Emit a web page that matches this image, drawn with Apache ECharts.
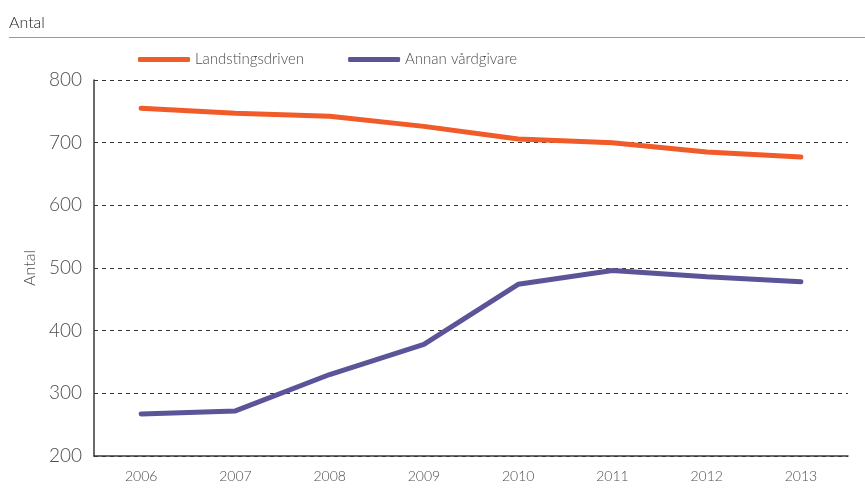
<!DOCTYPE html>
<html>
<head>
<meta charset="utf-8">
<script src="https://cdn.jsdelivr.net/npm/echarts@6/dist/echarts.min.js"></script>
<style>
  html, body { margin: 0; padding: 0; background: #fff; }
  #chart { width: 865px; height: 494px; }
</style>
</head>
<body>
<div id="chart"></div>
<script>
'use strict';

// data
const years = ['2006', '2007', '2008', '2009', '2010', '2011', '2012', '2013'];
const landstingsdriven = [755, 747, 742, 726, 706, 700, 685, 677];
const annanVardgivare = [267, 272, 330, 378, 474, 496, 486, 478];

const COLORS = {
  ORANGE: '#f15a29',
  PURPLE: '#5b5499',
  AXIS: '#3a3a3a',
  TEXT: '#4d4d4d',
};
const FONT = 'Lato, "Open Sans", sans-serif';

const chart = echarts.init(document.getElementById('chart'));

chart.setOption({
  animation: false,
  textStyle: { fontFamily: FONT },
  title: {
    text: 'Antal',
    left: 4,
    top: 10,
    textStyle: { fontSize: 16, fontWeight: 300, color: '#1a1a1a', fontFamily: FONT },
  },
  graphic: [
    {
      type: 'line',
      shape: { x1: 9, y1: 37.5, x2: 865, y2: 37.5 },
      style: { stroke: '#9e9792', lineWidth: 1 },
    },
  ],
  legend: {
    top: 52,
    left: 138,
    padding: 0,
    itemWidth: 52,
    itemHeight: 5,
    itemGap: 44,
    icon: 'roundRect',
    textStyle: { fontSize: 15, fontWeight: 300, color: COLORS.TEXT, fontFamily: FONT },
    data: ['Landstingsdriven', 'Annan vårdgivare'],
  },
  grid: { left: 94, right: 17, top: 80, bottom: 38 },
  xAxis: {
    type: 'category',
    data: years,
    boundaryGap: true,
    axisLine: { lineStyle: { color: COLORS.AXIS, width: 1.5 } },
    axisTick: { inside: true, length: 10, lineStyle: { color: COLORS.AXIS, width: 1.5 } },
    axisLabel: { color: COLORS.TEXT, fontSize: 14, fontWeight: 300, margin: 13, fontFamily: FONT },
  },
  yAxis: {
    type: 'value',
    min: 200,
    max: 800,
    interval: 100,
    name: 'Antal',
    nameLocation: 'middle',
    nameGap: 56,
    nameTextStyle: { color: COLORS.TEXT, fontSize: 16, fontWeight: 300, fontFamily: FONT },
    axisLine: { show: true, lineStyle: { color: COLORS.AXIS, width: 1.5 } },
    axisTick: { show: false },
    axisLabel: { color: COLORS.TEXT, fontSize: 19, fontWeight: 300, margin: 12, fontFamily: FONT },
    splitLine: { lineStyle: { color: '#333', type: [4, 4], width: 1 } },
  },
  series: [
    {
      name: 'Landstingsdriven',
      type: 'line',
      data: landstingsdriven,
      symbol: 'none',
      color: COLORS.ORANGE,
      lineStyle: { width: 5, cap: 'round' },
    },
    {
      name: 'Annan vårdgivare',
      type: 'line',
      data: annanVardgivare,
      symbol: 'none',
      color: COLORS.PURPLE,
      lineStyle: { width: 5, cap: 'round' },
    },
  ],
});
</script>
</body>
</html>
